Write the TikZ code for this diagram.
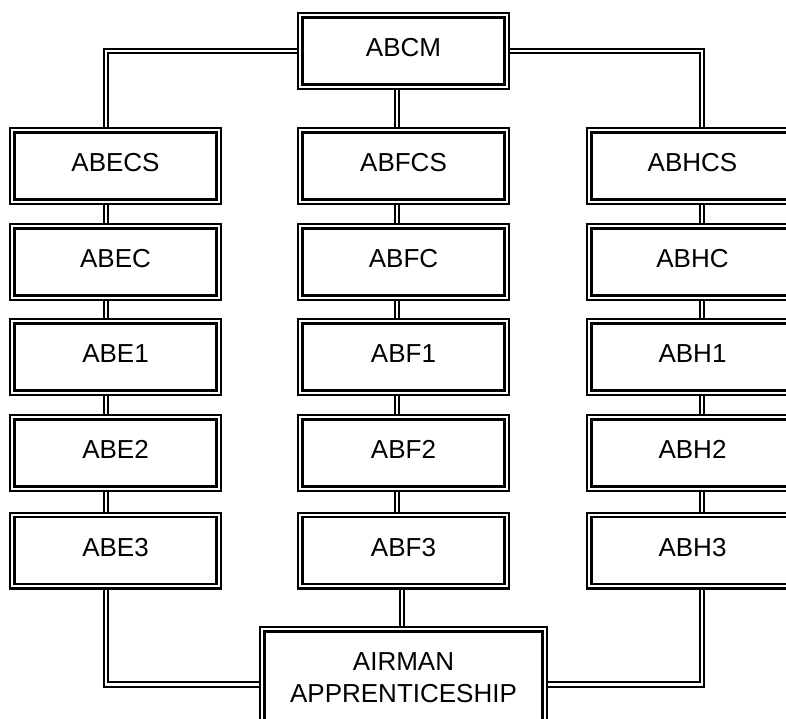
\documentclass[tikz,border=0pt]{standalone}
\usepackage{fontspec}
\setmainfont{Liberation Sans}
\begin{document}
\begin{tikzpicture}[x=1pt,y=-1pt,
  box/.style={draw=black, double=white, double distance=2pt, line width=2.3pt,
    fill=white, minimum width=206.4pt, minimum height=71.4pt, inner sep=0pt,
    outer sep=3.3pt, font=\fontsize{26}{32}\selectfont,
    text height=18.5pt, text depth=7pt},
  bigbox/.style={box, align=center, text height=, text depth=,
    minimum width=282.4pt, minimum height=97.4pt},
  conn/.style={draw=black, double=white, double distance=2.6pt, line width=1.8pt}]
\useasboundingbox (0,0) rectangle (786,719);
\clip (0,0) rectangle (786,719);
\coordinate (xl) at (106,0);
\coordinate (xm) at (397,0);
\coordinate (xm2) at (402,0);
\coordinate (xr) at (702,0);
\coordinate (yb) at (0,684.5);

\node[box] (ABCM) at (403.5,51) {ABCM};

\node[box] (ABECS) at (115.5,166) {ABECS};
\node[box] (ABEC)  at (115.5,262) {ABEC};
\node[box] (ABE1)  at (115.5,357) {ABE1};
\node[box] (ABE2)  at (115.5,453) {ABE2};
\node[box] (ABE3)  at (115.5,550.5) {ABE3};

\node[box] (ABFCS) at (403.5,166) {ABFCS};
\node[box] (ABFC)  at (403.5,262) {ABFC};
\node[box] (ABF1)  at (403.5,357) {ABF1};
\node[box] (ABF2)  at (403.5,453) {ABF2};
\node[box] (ABF3)  at (403.5,550.5) {ABF3};

\node[box] (ABHCS) at (692.5,166) {ABHCS};
\node[box] (ABHC)  at (692.5,262) {ABHC};
\node[box] (ABH1)  at (692.5,357) {ABH1};
\node[box] (ABH2)  at (692.5,453) {ABH2};
\node[box] (ABH3)  at (692.5,550.5) {ABH3};

\node[bigbox] (AIR) at (403.5,678) {AIRMAN\\APPRENTICESHIP};

% top connectors
\draw[conn] (ABCM.west) -| (ABECS.north -| xl);
\draw[conn] (ABCM.east) -| (ABHCS.north -| xr);
\draw[conn] (ABCM.south -| xm) -- (ABFCS.north -| xm);

% stacks
\foreach \a/\b in {ABECS/ABEC, ABEC/ABE1, ABE1/ABE2, ABE2/ABE3}
  \draw[conn] (\a.south -| xl) -- (\b.north -| xl);
\foreach \a/\b in {ABFCS/ABFC, ABFC/ABF1, ABF1/ABF2, ABF2/ABF3}
  \draw[conn] (\a.south -| xm) -- (\b.north -| xm);
\foreach \a/\b in {ABHCS/ABHC, ABHC/ABH1, ABH1/ABH2, ABH2/ABH3}
  \draw[conn] (\a.south -| xr) -- (\b.north -| xr);

% bottom connectors
\draw[conn] (ABE3.south -| xl) |- (AIR.west |- yb);
\draw[conn] (ABH3.south -| xr) |- (AIR.east |- yb);
\draw[conn] (ABF3.south -| xm2) -- (AIR.north -| xm2);
\end{tikzpicture}
\end{document}
